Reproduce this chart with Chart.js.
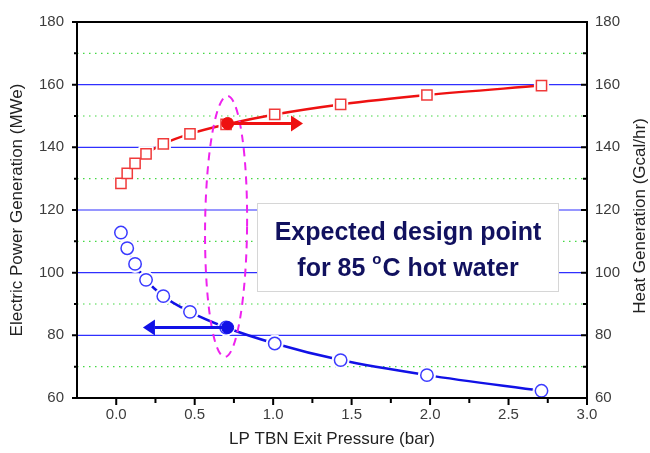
<!DOCTYPE html>
<html>
<head>
<meta charset="utf-8">
<script src="https://cdn.jsdelivr.net/npm/chart.js@4.4.1/dist/chart.umd.min.js"></script>
<style>
  html, body { margin: 0; padding: 0; background: #ffffff; }
  #wrap { width: 650px; height: 453px; }
</style>
</head>
<body>
<div id="wrap"><canvas id="c" width="650" height="453"></canvas></div>
<script>
// LP turbine exit pressure (bar) and the two outputs at each operating point
const pressure = [0.03, 0.07, 0.12, 0.19, 0.30, 0.47, 0.70, 1.01, 1.43, 1.98, 2.71];
const electricPower = [128.5, 131.7, 134.9, 137.9, 141.1, 144.3, 147.3, 150.5, 153.7, 156.7, 159.7];
const heatGeneration = [112.8, 107.8, 102.8, 97.7, 92.5, 87.5, 82.5, 77.4, 72.1, 67.3, 62.3];

// Design point for 85 °C hot water
const designPressure = 0.71;
const designPower = 147.6;
const designHeat = 82.5;
const powerArrowEnd = 1.19;
const heatArrowEnd = 0.17;
// vertical extent of the dashed ring round the design point (left-axis units)
const ringTop = 156.4;
const ringBottom = 73.1;

// Axis ticks
const xTicks = [0.0, 0.5, 1.0, 1.5, 2.0, 2.5, 3.0];
const xMinorTicks = [0.25, 0.75, 1.25, 1.75, 2.25, 2.75];
const yTicks = [60, 80, 100, 120, 140, 160, 180];
const yMinorTicks = [70, 90, 110, 130, 150, 170];

const FONT = "'Liberation Sans', Arial, Helvetica, sans-serif";
const RED_LINE = '#ee1111';
const RED_MARK = '#f03a3a';
const BLUE_LINE = '#1111e6';
const BLUE_MARK = '#3a3aff';

const xy = (xs, ys) => xs.map((x, i) => ({ x: x, y: ys[i] }));

// Grid lines drawn under the series
const gridPlugin = {
  id: 'originGrid',
  beforeDatasetsDraw(chart) {
    const { ctx, chartArea: a, scales: { y } } = chart;
    ctx.save();
    ctx.lineWidth = 1.2;
    ctx.strokeStyle = '#44d844';
    ctx.setLineDash([1.5, 4.5]);
    yMinorTicks.forEach(v => {
      const py = y.getPixelForValue(v);
      ctx.beginPath(); ctx.moveTo(a.left, py); ctx.lineTo(a.right, py); ctx.stroke();
    });
    ctx.setLineDash([]);
    ctx.strokeStyle = '#2f2fff';
    yTicks.slice(1, -1).forEach(v => {
      const py = y.getPixelForValue(v);
      ctx.beginPath(); ctx.moveTo(a.left, py); ctx.lineTo(a.right, py); ctx.stroke();
    });
    ctx.restore();
  }
};

function arrow(ctx, x0, y0, x1, color) {
  const dir = Math.sign(x1 - x0);
  const headLen = 12, headHalf = 8;
  ctx.save();
  ctx.strokeStyle = color;
  ctx.fillStyle = color;
  ctx.lineWidth = 3;
  ctx.beginPath(); ctx.moveTo(x0, y0); ctx.lineTo(x1 - dir * headLen, y0); ctx.stroke();
  ctx.beginPath();
  ctx.moveTo(x1, y0);
  ctx.lineTo(x1 - dir * headLen, y0 - headHalf);
  ctx.lineTo(x1 - dir * headLen, y0 + headHalf);
  ctx.closePath(); ctx.fill();
  ctx.restore();
}

// Annotations, frame, tick marks and right-hand title drawn above the series
const overlayPlugin = {
  id: 'overlay',
  afterDatasetsDraw(chart) {
    const { ctx, chartArea: a, scales: { x, y, y2 } } = chart;

    // dashed ring round the design point
    const cx = x.getPixelForValue(designPressure - 0.01);
    const top = y.getPixelForValue(ringTop);
    const bot = y.getPixelForValue(ringBottom);
    ctx.save();
    ctx.strokeStyle = '#ee22ee';
    ctx.lineWidth = 2;
    ctx.setLineDash([8, 6]);
    ctx.beginPath();
    ctx.ellipse(cx, (top + bot) / 2, 21, (bot - top) / 2, 0.01, 0, Math.PI * 2);
    ctx.stroke();
    ctx.restore();

    // arrows pointing each design value to its axis
    arrow(ctx, x.getPixelForValue(designPressure), y.getPixelForValue(designPower),
          x.getPixelForValue(powerArrowEnd), RED_LINE);
    arrow(ctx, x.getPixelForValue(designPressure), y2.getPixelForValue(designHeat),
          x.getPixelForValue(heatArrowEnd), BLUE_LINE);

    // caption box
    const bx = 257, by = 203, bw = 302, bh = 89;
    ctx.save();
    ctx.fillStyle = '#ffffff';
    ctx.fillRect(bx, by, bw, bh);
    ctx.strokeStyle = '#d6d6d6';
    ctx.lineWidth = 1;
    ctx.strokeRect(bx + 0.5, by + 0.5, bw - 1, bh - 1);
    ctx.fillStyle = '#11115f';
    ctx.textBaseline = 'alphabetic';
    ctx.textAlign = 'left';
    const big = "bold 25px " + FONT;
    const small = "bold 15px " + FONT;
    const mid = bx + bw / 2;
    ctx.font = big;
    const l1 = 'Expected design point';
    ctx.fillText(l1, mid - ctx.measureText(l1).width / 2, 240);
    const p1 = 'for 85 ', p3 = 'C hot water';
    const w1 = ctx.measureText(p1).width, w3 = ctx.measureText(p3).width;
    ctx.font = small;
    const w2 = ctx.measureText('o').width + 1;
    let sx = mid - (w1 + w2 + w3) / 2;
    ctx.font = big; ctx.fillText(p1, sx, 276);
    ctx.font = small; ctx.fillText('o', sx + w1, 264);
    ctx.font = big; ctx.fillText(p3, sx + w1 + w2, 276);
    ctx.restore();

    // frame and tick marks
    ctx.save();
    ctx.strokeStyle = '#000000';
    ctx.lineWidth = 2;
    ctx.strokeRect(a.left, a.top, a.right - a.left, a.bottom - a.top);
    ctx.beginPath();
    yTicks.forEach(v => {
      const py = y.getPixelForValue(v);
      ctx.moveTo(a.left - 5, py); ctx.lineTo(a.left, py);
      ctx.moveTo(a.right - 6, py); ctx.lineTo(a.right, py);
    });
    yMinorTicks.forEach(v => {
      const py = y.getPixelForValue(v);
      ctx.moveTo(a.left - 3, py); ctx.lineTo(a.left, py);
      ctx.moveTo(a.right - 4, py); ctx.lineTo(a.right, py);
    });
    xTicks.forEach(v => {
      const px = x.getPixelForValue(v);
      ctx.moveTo(px, a.bottom); ctx.lineTo(px, a.bottom + 7);
    });
    xMinorTicks.forEach(v => {
      const px = x.getPixelForValue(v);
      ctx.moveTo(px, a.bottom); ctx.lineTo(px, a.bottom + 5);
    });
    ctx.stroke();
    ctx.restore();

    // right axis title, reading bottom to top
    ctx.save();
    ctx.translate(640, (a.top + a.bottom) / 2 + 6);
    ctx.rotate(-Math.PI / 2);
    ctx.font = '17px ' + FONT;
    ctx.fillStyle = '#222222';
    ctx.textAlign = 'center';
    ctx.textBaseline = 'middle';
    ctx.fillText('Heat Generation (Gcal/hr)', 0, 0);
    ctx.restore();
  }
};

const tickFont = { family: FONT, size: 15 };
const titleFont = { family: FONT, size: 17 };

new Chart(document.getElementById('c'), {
  type: 'line',
  data: {
    datasets: [
      { label: 'Electric Power Generation', data: xy(pressure, electricPower), yAxisID: 'y',
        borderColor: RED_LINE, borderWidth: 2.5, pointRadius: 0, cubicInterpolationMode: 'monotone', order: 6 },
      { label: 'power gap', data: xy(pressure, electricPower), yAxisID: 'y', showLine: false,
        pointStyle: 'rect', pointRadius: 10, pointBackgroundColor: '#ffffff', pointBorderColor: '#ffffff', order: 5 },
      { label: 'power points', data: xy(pressure, electricPower), yAxisID: 'y', showLine: false,
        pointStyle: 'rect', pointRadius: 7.2, pointBorderWidth: 1.5, pointBackgroundColor: '#ffffff', pointBorderColor: RED_MARK, order: 3 },
      { label: 'Heat Generation', data: xy(pressure, heatGeneration), yAxisID: 'y2',
        borderColor: BLUE_LINE, borderWidth: 2.5, pointRadius: 0, cubicInterpolationMode: 'monotone', order: 6 },
      { label: 'heat gap', data: xy(pressure, heatGeneration), yAxisID: 'y2', showLine: false,
        pointStyle: 'circle', pointRadius: 8.5, pointBackgroundColor: '#ffffff', pointBorderColor: '#ffffff', order: 5 },
      { label: 'heat points', data: xy(pressure, heatGeneration), yAxisID: 'y2', showLine: false,
        pointStyle: 'circle', pointRadius: 6.2, pointBorderWidth: 1.5, pointBackgroundColor: '#ffffff', pointBorderColor: BLUE_MARK, order: 3 },
      { label: 'design power', data: [{ x: designPressure, y: designPower }], yAxisID: 'y', showLine: false,
        pointRadius: 6, pointBackgroundColor: RED_LINE, pointBorderColor: RED_LINE, order: 1 },
      { label: 'design heat', data: [{ x: designPressure, y: designHeat }], yAxisID: 'y2', showLine: false,
        pointRadius: 6, pointBackgroundColor: BLUE_LINE, pointBorderColor: BLUE_LINE, order: 1 }
    ]
  },
  options: {
    responsive: false,
    animation: false,
    devicePixelRatio: 1,
    layout: { padding: { top: 22, left: 0, right: 0, bottom: 0 } },
    plugins: { legend: { display: false }, tooltip: { enabled: false } },
    scales: {
      x: {
        type: 'linear', min: -0.25, max: 3.0,
        afterBuildTicks: s => { s.ticks = xTicks.map(v => ({ value: v })); },
        afterFit: s => { s.height = 55; },
        grid: { display: false, drawTicks: false },
        border: { display: false },
        ticks: { font: tickFont, color: '#3c3c3c', padding: 8, maxRotation: 0,
                 callback: v => Number(v).toFixed(1) },
        title: { display: true, text: 'LP TBN Exit Pressure (bar)', font: titleFont, color: '#222222',
                 padding: { top: 0, bottom: 3 } }
      },
      y: {
        type: 'linear', position: 'left', min: 60, max: 180,
        afterBuildTicks: s => { s.ticks = yTicks.map(v => ({ value: v })); },
        afterFit: s => { s.width = 77; },
        grid: { display: false, drawTicks: false },
        border: { display: false },
        ticks: { font: tickFont, color: '#3c3c3c', padding: 13 },
        title: { display: true, text: 'Electric Power Generation (MWe)', font: titleFont, color: '#222222',
                 padding: { top: 7, bottom: 0 } }
      },
      y2: {
        type: 'linear', position: 'right', min: 60, max: 180,
        afterBuildTicks: s => { s.ticks = yTicks.map(v => ({ value: v })); },
        afterFit: s => { s.width = 63; },
        grid: { display: false, drawTicks: false },
        border: { display: false },
        ticks: { font: tickFont, color: '#3c3c3c', padding: 8 },
        title: { display: false }
      }
    }
  },
  plugins: [gridPlugin, overlayPlugin]
});
</script>
</body>
</html>
